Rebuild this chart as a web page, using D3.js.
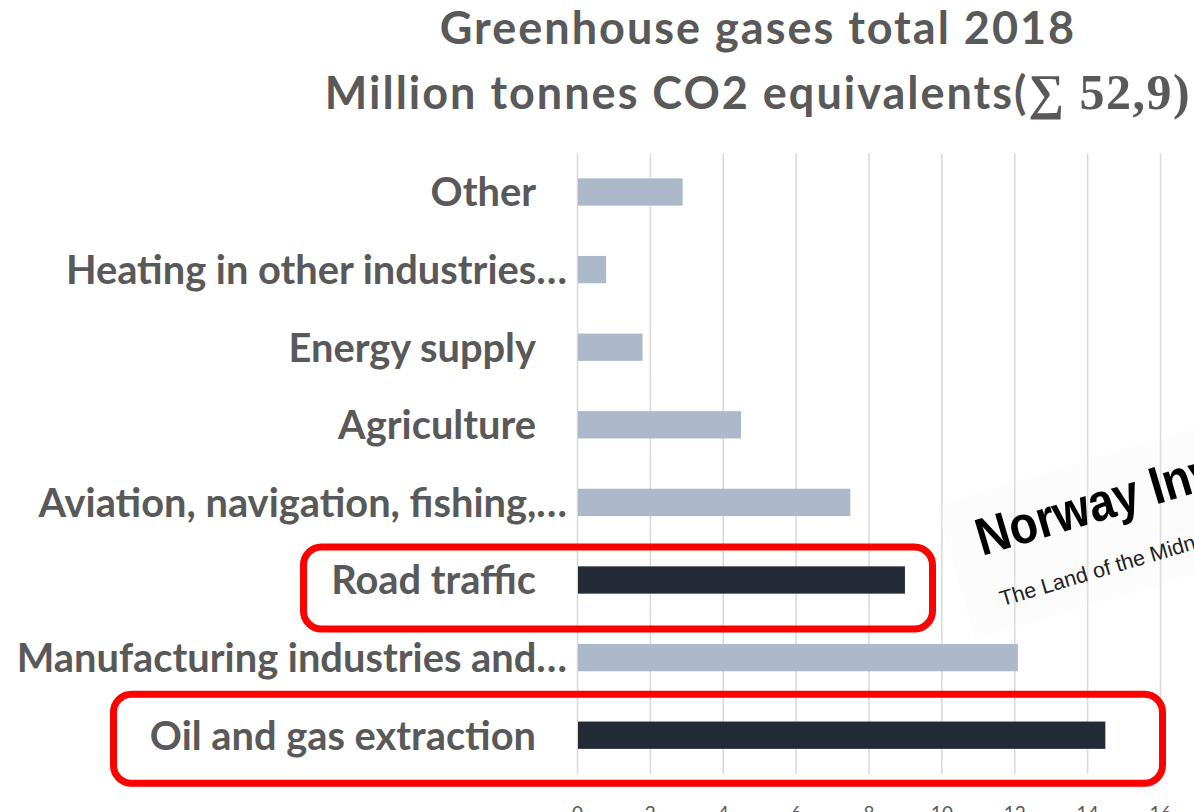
<!DOCTYPE html>
<html>
<head>
<meta charset="utf-8">
<script src="https://cdn.jsdelivr.net/npm/d3@7"></script>
<style>
  html, body { margin: 0; padding: 0; background: #ffffff; }
  svg { display: block; }
</style>
</head>
<body>
<svg id="chart" width="1194" height="812"></svg>
<script>
// Greenhouse gas emissions by source, Norway 2018 (million tonnes CO2 equivalents)
const categories = [
  "Other",
  "Heating in other industries…",
  "Energy supply",
  "Agriculture",
  "Aviation, navigation, fishing,…",
  "Road traffic",
  "Manufacturing industries and…",
  "Oil and gas extraction"
];
const values = [2.9, 0.8, 1.8, 4.5, 7.5, 9.0, 12.1, 14.5];
const highlighted = ["Road traffic", "Oil and gas extraction"];
const xTicks = [0, 2, 4, 6, 8, 10, 12, 14, 16];
const titleLine1 = "Greenhouse gases total 2018";
const titleLine2 = "Million tonnes CO2 equivalents(";
const titleTotal = "∑ 52,9)";
const logoName = "Norway Invest";
const logoTagline = "The Land of the Midnight Sun";

const W = 1194, H = 812;
const plot = { left: 577, right: 1160, top: 153.2, bottom: 774 };
const textGrey = "#595959";
const sans = "Lato, 'Open Sans', sans-serif";

const svg = d3.select("#chart");
const data = categories.map((c, i) => ({ category: c, value: values[i] }));

const x = d3.scaleLinear().domain([0, 16]).range([plot.left, plot.right]);
const y = d3.scaleBand().domain(categories)
  .range([plot.top, plot.bottom])
  .paddingInner(0.648).paddingOuter(0.324);

// Vertical gridlines and value tick labels
const xAxis = d3.axisBottom(x)
  .tickValues(xTicks)
  .tickSize(-(plot.bottom - plot.top))
  .tickSizeOuter(0)
  .tickPadding(33);
const gx = svg.append("g")
  .attr("transform", `translate(0,${plot.bottom})`)
  .call(xAxis);
gx.select(".domain").remove();
gx.selectAll(".tick line").attr("stroke", "#d9d9d9").attr("stroke-width", 1.5);
gx.selectAll(".tick text")
  .attr("fill", textGrey)
  .attr("font-family", sans)
  .attr("font-size", 19);

// Logo card, faint and rotated
const logo = svg.append("g").attr("transform", "translate(982,556) rotate(-16.5)");
logo.append("rect")
  .attr("x", -30).attr("y", -62)
  .attr("width", 420).attr("height", 140)
  .attr("fill", "#f2f2f2").attr("opacity", 0.2);

// Bars
svg.append("g").selectAll("rect")
  .data(data)
  .join("rect")
  .attr("x", x(0) + 1)
  .attr("y", d => y(d.category))
  .attr("width", d => x(d.value) - x(0) - 1)
  .attr("height", y.bandwidth())
  .attr("fill", d => highlighted.includes(d.category) ? "#232a35" : "#adb9ca");

// Category labels
svg.append("g").selectAll("text")
  .data(data)
  .join("text")
  .attr("x", d => d.category.endsWith("…") ? 567 : 536)
  .attr("y", d => y(d.category) + y.bandwidth() / 2)
  .attr("dy", "0.36em")
  .attr("text-anchor", "end")
  .attr("font-family", sans)
  .attr("font-weight", "bold")
  .attr("font-size", 39.8)
  .attr("fill", textGrey)
  .text(d => d.category);

// Logo text
logo.append("text")
  .attr("transform", "scale(0.93,1.06)")
  .attr("x", 0).attr("y", 0)
  .attr("font-family", "'Liberation Sans', Arial, sans-serif")
  .attr("font-weight", "bold")
  .attr("font-size", 50)
  .attr("fill", "#000")
  .text(logoName);
logo.append("text")
  .attr("x", 5).attr("y", 54)
  .attr("font-family", "'Liberation Sans', Arial, sans-serif")
  .attr("font-size", 21.5)
  .attr("fill", "#222")
  .text(logoTagline);

// Title
const title = svg.append("g")
  .attr("font-family", sans)
  .attr("font-weight", "bold")
  .attr("fill", textGrey)
  .attr("text-anchor", "middle")
  .attr("letter-spacing", 2);
title.append("text")
  .attr("x", 758).attr("y", 44)
  .attr("font-size", 45)
  .text(titleLine1);
const t2 = title.append("text")
  .attr("x", 758).attr("y", 109)
  .attr("font-size", 45);
t2.append("tspan").text(titleLine2);
t2.append("tspan")
  .attr("font-family", "'Liberation Serif', 'Times New Roman', serif")
  .attr("font-size", 50)
  .attr("letter-spacing", 1.5)
  .text(titleTotal);

// Highlight boxes around selected categories
const boxes = [
  { category: "Road traffic", x0: 303.5, x1: 932.5, above: 33, below: 49 },
  { category: "Oil and gas extraction", x0: 113.5, x1: 1162.5, above: 41, below: 48 }
];
svg.append("g").selectAll("rect")
  .data(boxes)
  .join("rect")
  .attr("x", d => d.x0)
  .attr("y", d => y(d.category) + y.bandwidth() / 2 - d.above)
  .attr("width", d => d.x1 - d.x0)
  .attr("height", d => d.above + d.below)
  .attr("rx", 18).attr("ry", 18)
  .attr("fill", "none")
  .attr("stroke", "#ff0000")
  .attr("stroke-width", 7);
</script>
</body>
</html>
